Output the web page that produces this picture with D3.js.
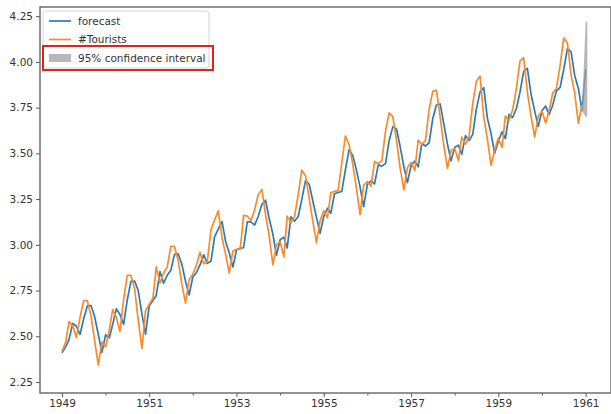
<!DOCTYPE html>
<html lang="en">
<head>
<meta charset="UTF-8">
<title>forecast vs #Tourists</title>
<script src="https://d3js.org/d3.v7.min.js"></script>
<style>
  body { margin: 0; background: #fff; }
  svg text { font-family: "DejaVu Sans", sans-serif; font-size: 10.5px; fill: #333; }
</style>
</head>
<body>
<div id="chart"></div>
<script>
// monthly values, one row per year (Jan..Dec)
const years = [1949, 1950, 1951, 1952, 1953, 1954, 1955, 1956, 1957, 1958, 1959, 1960];

const tourists = [
  [2.416, 2.468, 2.580, 2.557, 2.493, 2.603, 2.695, 2.695, 2.610, 2.477, 2.342, 2.468],
  [2.442, 2.534, 2.646, 2.603, 2.526, 2.701, 2.833, 2.833, 2.760, 2.588, 2.434, 2.639],
  [2.674, 2.708, 2.879, 2.791, 2.845, 2.879, 2.991, 2.991, 2.912, 2.785, 2.681, 2.809],
  [2.839, 2.890, 2.960, 2.896, 2.907, 3.082, 3.135, 3.186, 3.040, 2.950, 2.845, 2.965],
  [2.976, 2.976, 3.161, 3.157, 3.131, 3.190, 3.273, 3.303, 3.165, 3.049, 2.890, 3.001],
  [3.016, 2.934, 3.157, 3.122, 3.153, 3.273, 3.408, 3.378, 3.254, 3.131, 3.011, 3.131],
  [3.186, 3.148, 3.285, 3.292, 3.296, 3.450, 3.595, 3.547, 3.440, 3.311, 3.165, 3.325],
  [3.346, 3.321, 3.456, 3.444, 3.459, 3.622, 3.721, 3.701, 3.570, 3.421, 3.300, 3.421],
  [3.450, 3.405, 3.572, 3.550, 3.570, 3.742, 3.839, 3.844, 3.699, 3.547, 3.418, 3.515],
  [3.526, 3.459, 3.589, 3.550, 3.592, 3.773, 3.894, 3.922, 3.699, 3.581, 3.434, 3.517],
  [3.584, 3.532, 3.704, 3.679, 3.738, 3.854, 4.004, 4.024, 3.835, 3.706, 3.589, 3.701],
  [3.731, 3.666, 3.735, 3.831, 3.854, 3.980, 4.130, 4.104, 3.928, 3.831, 3.664, 3.766]
];

const forecast = [
  [2.410, 2.442, 2.483, 2.570, 2.555, 2.510, 2.594, 2.666, 2.668, 2.608, 2.510, 2.412],
  [2.508, 2.492, 2.563, 2.650, 2.619, 2.565, 2.698, 2.800, 2.802, 2.750, 2.623, 2.511],
  [2.666, 2.696, 2.723, 2.854, 2.790, 2.834, 2.861, 2.948, 2.950, 2.894, 2.801, 2.726],
  [2.824, 2.849, 2.890, 2.945, 2.899, 2.910, 3.044, 3.086, 3.127, 3.020, 2.955, 2.879],
  [2.971, 2.982, 2.984, 3.126, 3.125, 3.108, 3.155, 3.220, 3.244, 3.144, 3.059, 2.943],
  [3.028, 3.042, 2.983, 3.153, 3.129, 3.155, 3.247, 3.351, 3.331, 3.241, 3.150, 3.063],
  [3.155, 3.200, 3.173, 3.279, 3.286, 3.292, 3.410, 3.521, 3.487, 3.410, 3.315, 3.209],
  [3.331, 3.350, 3.333, 3.437, 3.430, 3.444, 3.569, 3.646, 3.633, 3.538, 3.428, 3.340],
  [3.433, 3.458, 3.426, 3.554, 3.540, 3.558, 3.689, 3.764, 3.770, 3.664, 3.552, 3.459],
  [3.533, 3.545, 3.496, 3.597, 3.570, 3.604, 3.742, 3.836, 3.859, 3.694, 3.608, 3.501],
  [3.565, 3.618, 3.581, 3.713, 3.696, 3.744, 3.833, 3.948, 3.965, 3.826, 3.732, 3.647],
  [3.733, 3.758, 3.712, 3.766, 3.840, 3.861, 3.957, 4.073, 4.055, 3.926, 3.855, 3.733]
];
const forecastOut = [{ date: new Date(1961, 0, 1), value: 3.96 }];

// 95% confidence interval of the out-of-sample step
const ciDates = [new Date(1960, 11, 1), new Date(1961, 0, 1), new Date(1961, 0, 15)];
const ciLow = [3.733, 3.70, 3.70];
const ciHigh = [3.733, 4.22, 4.22];

const xTickYears = [1949, 1951, 1953, 1955, 1957, 1959, 1961];
const xMinorYears = [1950, 1952, 1954, 1956, 1958, 1960];
const yTicks = [2.25, 2.50, 2.75, 3.00, 3.25, 3.50, 3.75, 4.00, 4.25];

const width = 611, height = 414;
const margin = { top: 7, right: 0, bottom: 21, left: 40 };

function monthly(rows) {
  const out = [];
  rows.forEach((row, i) => row.forEach((v, m) => out.push({ date: new Date(years[i], m, 1), value: v })));
  return out;
}
const touristSeries = monthly(tourists);
const forecastSeries = monthly(forecast).concat(forecastOut);

const svg = d3.select("#chart").append("svg")
  .attr("width", width)
  .attr("height", height);

const x = d3.scaleTime()
  .domain([new Date(1948, 6, 1), new Date(1961, 7, 1)])
  .range([margin.left, width - margin.right]);

const y = d3.scaleLinear()
  .domain([2.19, 4.30])
  .range([height - margin.bottom, margin.top]);

const line = d3.line()
  .x(d => x(d.date))
  .y(d => y(d.value));

svg.append("clipPath").attr("id", "plot")
  .append("rect")
  .attr("x", margin.left).attr("y", margin.top)
  .attr("width", width - margin.left - margin.right)
  .attr("height", height - margin.top - margin.bottom);

const plot = svg.append("g").attr("clip-path", "url(#plot)");

plot.append("path")
  .datum(forecastSeries)
  .attr("fill", "none")
  .attr("stroke", "#2b7bb9")
  .attr("stroke-width", 1.7)
  .attr("stroke-linejoin", "round")
  .attr("d", line);

plot.append("path")
  .datum(touristSeries)
  .attr("fill", "none")
  .attr("stroke", "#fb8a2a")
  .attr("stroke-width", 1.7)
  .attr("stroke-linejoin", "round")
  .attr("d", line);

const area = d3.area()
  .x((d, i) => x(ciDates[i]))
  .y0((d, i) => y(ciLow[i]))
  .y1((d, i) => y(ciHigh[i]));

plot.append("path")
  .datum(ciDates)
  .attr("fill", "#a0a0a0")
  .attr("fill-opacity", 0.75)
  .attr("d", area);

// axes
svg.append("g")
  .attr("transform", `translate(${margin.left},0)`)
  .call(d3.axisLeft(y).tickValues(yTicks).tickFormat(d3.format(".2f")).tickSize(4).tickPadding(3));

svg.append("g")
  .attr("transform", `translate(0,${height - margin.bottom})`)
  .call(d3.axisBottom(x)
    .tickValues(xTickYears.map(v => new Date(v, 0, 1)))
    .tickFormat(d3.timeFormat("%Y"))
    .tickSize(4).tickPadding(3));

svg.append("g")
  .attr("transform", `translate(0,${height - margin.bottom})`)
  .call(d3.axisBottom(x)
    .tickValues(xMinorYears.map(v => new Date(v, 0, 1)))
    .tickFormat("")
    .tickSize(2.5));

svg.selectAll(".domain").remove();
svg.selectAll(".tick line").attr("stroke", "#555");
svg.selectAll(".tick text").attr("fill", "#333").style("font-size", "10.5px");

// frame
svg.append("rect")
  .attr("x", margin.left)
  .attr("y", margin.top)
  .attr("width", width - margin.left - margin.right)
  .attr("height", height - margin.top - margin.bottom)
  .attr("fill", "none")
  .attr("stroke", "#666")
  .attr("stroke-width", 1.4);

// legend
const legend = svg.append("g");
legend.append("rect")
  .attr("x", 43).attr("y", 11)
  .attr("width", 166).attr("height", 57)
  .attr("rx", 3)
  .attr("fill", "#fff").attr("fill-opacity", 0.8)
  .attr("stroke", "#d4d4d4");

const items = [
  { label: "forecast", color: "#2b7bb9", kind: "line" },
  { label: "#Tourists", color: "#fb8a2a", kind: "line" },
  { label: "95% confidence interval", color: "#a6a2ad", kind: "patch" }
];

items.forEach((it, i) => {
  const cy = 21 + i * 18.5;
  if (it.kind === "line") {
    legend.append("line")
      .attr("x1", 49).attr("x2", 71)
      .attr("y1", cy).attr("y2", cy)
      .attr("stroke", it.color).attr("stroke-width", 1.7);
  } else {
    legend.append("rect")
      .attr("x", 49).attr("y", cy - 4)
      .attr("width", 22).attr("height", 8)
      .attr("fill", it.color).attr("fill-opacity", 0.8);
  }
  legend.append("text")
    .attr("x", 78).attr("y", cy)
    .attr("dy", "0.35em")
    .text(it.label);
});

// red highlight box around the CI entry
svg.append("rect")
  .attr("x", 43).attr("y", 46)
  .attr("width", 170).attr("height", 24)
  .attr("fill", "none")
  .attr("stroke", "#e0231c")
  .attr("stroke-width", 2);
</script>
</body>
</html>
